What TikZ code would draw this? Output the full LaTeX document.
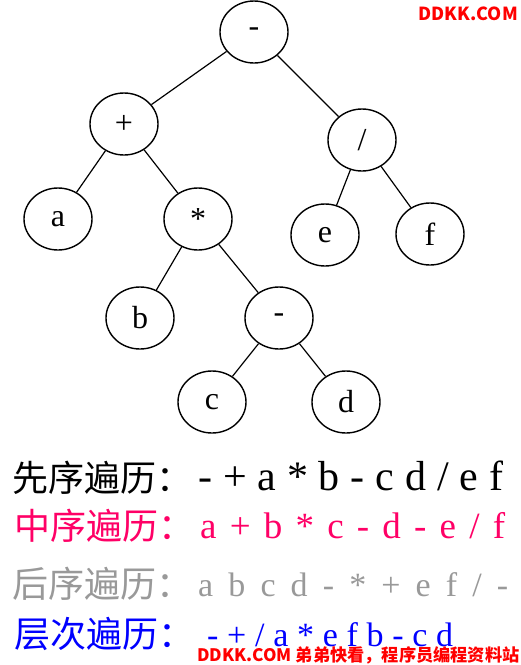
\documentclass[tikz,border=0pt]{standalone}
\usepackage{fontspec}
\setmainfont{Liberation Serif}
\newfontfamily\cjk{Noto Sans CJK SC}
\usepackage{xcolor}
\usetikzlibrary{shapes.geometric}
\usetikzlibrary{calc}
\definecolor{inpink}{HTML}{FF0066}
\definecolor{postgray}{HTML}{999999}
\definecolor{levelblue}{HTML}{0000FF}
\definecolor{markred}{HTML}{FF0000}
\newcommand{\orderline}[5]{%
  \node[anchor=base west,inner sep=0,text=#1] (#2h) at (#3) {\cjk\fontsize{36}{36}\selectfont #4};
  \node[anchor=base west,inner sep=0,text=#1] (#2t) at ($(#3)+(186,-1)$) {#5};
}

\begin{document}
\begin{tikzpicture}[x=1pt,y=-1pt,
  vert/.style={draw,ellipse,line width=1.4pt,minimum width=68pt,minimum height=62pt,inner sep=0pt,font=\fontsize{32}{32}\selectfont},
  edge/.style={line width=1.2pt}]
\useasboundingbox (0,0) rectangle (521,665);
% tree
\node[vert] (root) at (254,32) {-};
\node[vert] (plus) at (124,124) {+};
\node[vert] (slash) at (362,140) {/};
\node[vert] (a) at (58,219) {a};
\node[vert] (star) at (198,219) {*};
\node[vert] (e) at (325,235) {e};
\node[vert] (f) at (430,234) {f};
\node[vert] (b) at (140,318) {b};
\node[vert] (minus) at (279,318) {-};
\node[vert] (c) at (212,402) {c};
\node[vert] (d) at (346,402) {d};
\draw[edge] (root) -- (plus);
\draw[edge] (root) -- (slash);
\draw[edge] (plus) -- (a);
\draw[edge] (plus) -- (star);
\draw[edge] (star) -- (b);
\draw[edge] (star) -- (minus);
\draw[edge] (minus) -- (c);
\draw[edge] (minus) -- (d);
\draw[edge] (slash) -- (e);
\draw[edge] (slash) -- (f);
% traversals
\orderline{black}{pre}{12,491}{先序遍历：}{\fontsize{42}{42}\selectfont\makebox[305pt][s]{- + a * b - c d / e f}}
\orderline{inpink}{in}{14,539}{中序遍历：}{\fontsize{37}{37}\selectfont\makebox[305pt][s]{a + b * c - d - e / f}}
\orderline{postgray}{post}{12,597}{后序遍历：}{\fontsize{34}{34}\selectfont\makebox[310pt][s]{a b c d - * + e f / -}}
\orderline{levelblue}{level}{14,647}{层次遍历：}{\hspace{7pt}\fontsize{34}{34}\selectfont\makebox[246pt][s]{- + / a * e f b - c d}}
% watermarks
\node[anchor=base east,inner sep=0,text=markred,font=\cjk\bfseries\fontsize{18}{18}\selectfont] (marktop) at (518,20) {DDKK.COM};
\node[anchor=base west,inner sep=0,text=markred,font=\cjk\bfseries\fontsize{17.2}{17.2}\selectfont] (markbottom) at (197,661) {DDKK.COM 弟弟快看，程序员编程资料站};
\end{tikzpicture}
\end{document}
